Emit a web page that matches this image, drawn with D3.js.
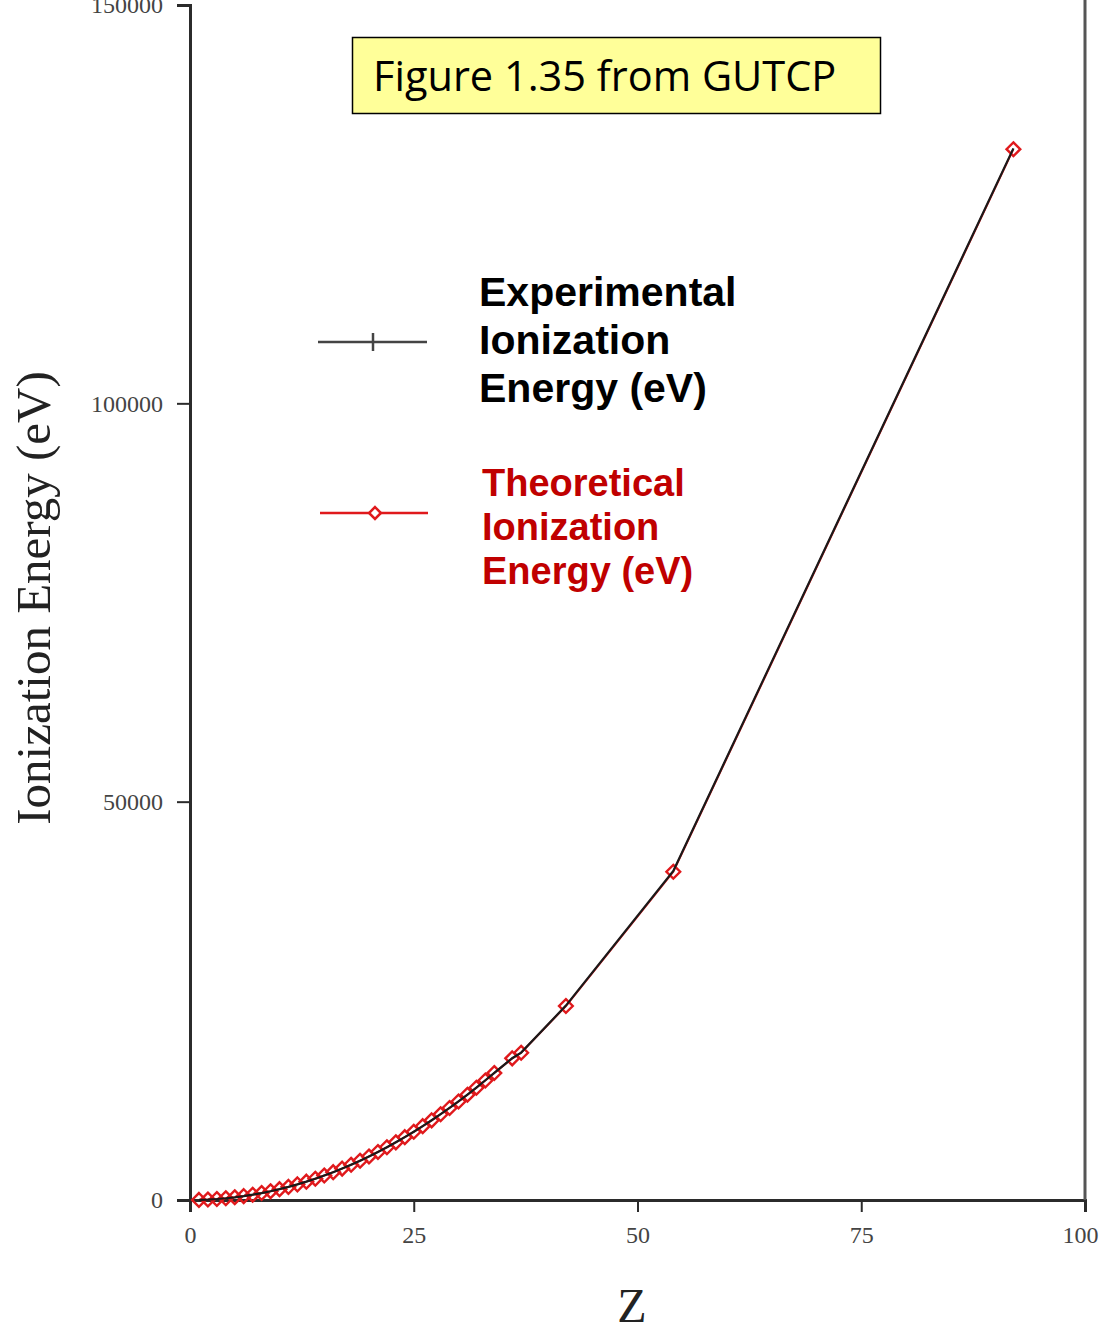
<!DOCTYPE html>
<html>
<head>
<meta charset="utf-8">
<script src="https://cdn.jsdelivr.net/npm/d3@7"></script>
<style>
  body { margin: 0; background: #fff; }
  svg { display: block; }
</style>
</head>
<body>
<div id="chart"></div>
<script>
// nuclear charge Z of the one-electron atoms
var zValues = [1,2,3,4,5,6,7,8,9,10,11,12,13,14,15,16,17,18,19,20,
               21,22,23,24,25,26,27,28,29,30,31,32,33,34,36,37,42,54,92]
// experimental ionization energy (eV)
var expValues = [13.6,54.4,122.5,217.7,340.2,490.0,667.0,871.4,1103.1,1362.2,
                 1648.7,1962.7,2304.1,2673.2,3069.8,3494.2,3946.3,4426.2,4934.0,5469.9,
                 6033.7,6625.8,7246.1,7894.8,8571.9,9277.7,10012,10775,11568,12389,
                 13239,14119,15029,15967,17800,18500,24400,41300,132000]
// theoretical ionization energy (eV)
var theoValues = [13.6,54.4,122.4,217.7,340.1,489.8,666.8,871.1,1102.7,1361.6,
                  1648.0,1961.7,2302.9,2671.6,3067.9,3491.8,3943.4,4422.8,4930.0,5465.2,
                  6028.2,6619.4,7238.6,7886.1,8561.8,9265.9,9998.4,10759,11549,12367,
                  13215,14092,14998,15933,17780,18480,24350,41200,131900]
var xTicks = [0, 25, 50, 75, 100]
var yTicks = [0, 50000, 100000, 150000]

var expData = zValues.map(function(z, i) { return {z: z, v: expValues[i]}; })
var theoData = zValues.map(function(z, i) { return {z: z, v: theoValues[i]}; })

var width = 1105, height = 1333

var svg = d3.select('#chart')
  .append('svg')
  .attr('width', width)
  .attr('height', height)

var x = d3.scaleLinear().domain([0, 100]).range([190, 1085])
var y = d3.scaleLinear().domain([0, 150000]).range([1200, 5])

var axisColor = '#2b2b2b'
var serif = '"Liberation Serif", "DejaVu Serif", serif'

// x axis
var xAxis = svg.append('g')
  .attr('transform', 'translate(0,1200)')
  .call(d3.axisBottom(x).tickValues(xTicks).tickSize(12).tickPadding(14).tickFormat(d3.format('d')))
xAxis.select('.domain').attr('stroke', axisColor).attr('stroke-width', 3)
xAxis.selectAll('.tick line').attr('stroke', axisColor).attr('stroke-width', 2)
xAxis.selectAll('.tick text')
  .attr('fill', '#444')
  .style('font-family', serif)
  .style('font-size', '24px')
xAxis.selectAll('.tick text').filter(function(d) { return d === 100; }).attr('dx', -5)

// y axis
var yAxis = svg.append('g')
  .attr('transform', 'translate(190,0)')
  .call(d3.axisLeft(y).tickValues(yTicks).tickSize(13).tickPadding(14).tickFormat(d3.format('d')))
yAxis.select('.domain').attr('stroke', axisColor).attr('stroke-width', 3)
yAxis.selectAll('.tick line').attr('stroke', axisColor).attr('stroke-width', 2)
yAxis.selectAll('.tick text')
  .attr('fill', '#444')
  .style('font-family', serif)
  .style('font-size', '24px')

// right frame line
svg.append('line')
  .attr('x1', x(100)).attr('x2', x(100))
  .attr('y1', 0).attr('y2', y(0))
  .attr('stroke', '#555')
  .attr('stroke-width', 3)

// axis titles
svg.append('text')
  .attr('transform', 'translate(50,' + 598 + ') rotate(-90)')
  .attr('text-anchor', 'middle')
  .style('font-family', serif)
  .style('font-size', '49px')
  .attr('fill', '#222')
  .text('Ionization Energy (eV)')

svg.append('text')
  .attr('x', 632)
  .attr('y', 1322)
  .attr('text-anchor', 'middle')
  .style('font-family', serif)
  .style('font-size', '48px')
  .attr('fill', '#222')
  .text('Z')

var line = d3.line()
  .x(function(d) { return x(d.z); })
  .y(function(d) { return y(d.v); })

// theoretical series: red line with open diamonds
svg.append('path')
  .datum(theoData)
  .attr('d', line)
  .attr('fill', 'none')
  .attr('stroke', '#e0191c')
  .attr('stroke-width', 2)

svg.append('g')
  .selectAll('path')
  .data(theoData)
  .enter().append('path')
  .attr('d', d3.symbol().type(d3.symbolDiamond2).size(120))
  .attr('transform', function(d) { return 'translate(' + x(d.z) + ',' + y(d.v) + ')'; })
  .attr('fill', 'none')
  .attr('stroke', '#e0191c')
  .attr('stroke-width', 2.4)

// experimental series: black line with plus markers
svg.append('path')
  .datum(expData)
  .attr('d', line)
  .attr('fill', 'none')
  .attr('stroke', '#1a1a1a')
  .attr('stroke-width', 2.2)

svg.append('g')
  .selectAll('path')
  .data(expData)
  .enter().append('path')
  .attr('d', d3.symbol().type(d3.symbolPlus).size(110))
  .attr('transform', function(d) { return 'translate(' + x(d.z) + ',' + y(d.v) + ')'; })
  .attr('fill', '#111')

// legend
var legend = svg.append('g')
legend.append('line')
  .attr('x1', 318).attr('x2', 427).attr('y1', 342).attr('y2', 342)
  .attr('stroke', '#444').attr('stroke-width', 2.5)
legend.append('line')
  .attr('x1', 373).attr('x2', 373).attr('y1', 333).attr('y2', 351)
  .attr('stroke', '#444').attr('stroke-width', 2.5)
legend.append('line')
  .attr('x1', 320).attr('x2', 428).attr('y1', 513).attr('y2', 513)
  .attr('stroke', '#e0191c').attr('stroke-width', 2.5)
legend.append('path')
  .attr('d', d3.symbol().type(d3.symbolDiamond2).size(90))
  .attr('transform', 'translate(375,513)')
  .attr('fill', '#fff')
  .attr('stroke', '#e0191c')
  .attr('stroke-width', 2.5)

var expLabel = ['Experimental', 'Ionization', 'Energy (eV)']
var theoLabel = ['Theoretical', 'Ionization', 'Energy (eV)']

legend.append('text')
  .attr('x', 479).attr('y', 306)
  .attr('fill', '#000')
  .style('font-family', '"Liberation Sans", Arial, sans-serif')
  .style('font-weight', 'bold')
  .style('font-size', '41px')
  .selectAll('tspan')
  .data(expLabel)
  .enter().append('tspan')
  .attr('x', 479)
  .attr('dy', function(d, i) { return i === 0 ? 0 : 48; })
  .text(function(d) { return d; })

legend.append('text')
  .attr('x', 482).attr('y', 496)
  .attr('fill', '#c00000')
  .style('font-family', '"Liberation Sans", Arial, sans-serif')
  .style('font-weight', 'bold')
  .style('font-size', '38px')
  .selectAll('tspan')
  .data(theoLabel)
  .enter().append('tspan')
  .attr('x', 482)
  .attr('dy', function(d, i) { return i === 0 ? 0 : 44; })
  .text(function(d) { return d; })

// title box
svg.append('rect')
  .attr('x', 352.5).attr('y', 37.5)
  .attr('width', 528).attr('height', 76)
  .attr('fill', '#ffff99')
  .attr('stroke', '#000')
  .attr('stroke-width', 1.5)

svg.append('text')
  .attr('x', 373).attr('y', 91)
  .style('font-family', '"Open Sans", "Noto Sans", sans-serif')
  .style('font-size', '41.5px')
  .attr('fill', '#000')
  .text('Figure 1.35 from GUTCP')
</script>
</body>
</html>
